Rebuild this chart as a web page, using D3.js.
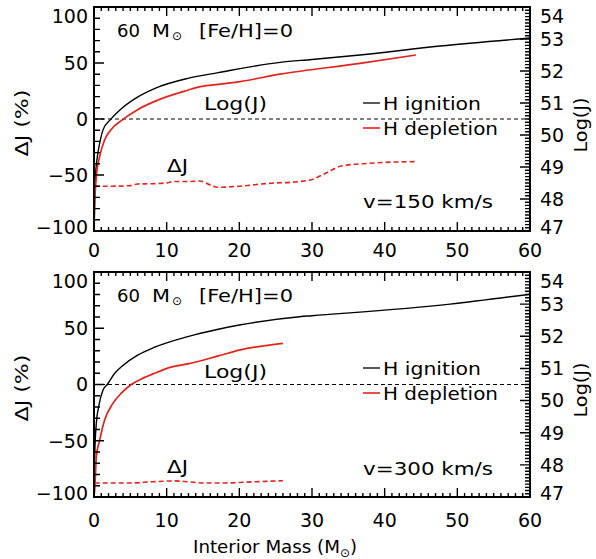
<!DOCTYPE html>
<html>
<head>
<meta charset="utf-8">
<script src="https://cdn.jsdelivr.net/npm/d3@7/dist/d3.min.js"></script>
<style>
  body { margin: 0; background: #fff; }
  svg { display: block; }
  text { font-family: "DejaVu Sans", sans-serif; fill: #000; }
</style>
</head>
<body>
<svg id="chart" width="596" height="559"></svg>
<script>
// v = 150 km/s : log J at H ignition / H depletion vs interior mass (Msun)
const ign150Mass = [0, 0.08, 0.18, 0.46, 0.78, 1.24, 2.3, 3.8, 6.1, 8.4, 12.9, 17.1, 25.6, 30, 36.6, 47.6, 60]
const ign150LogJ = [47.0, 47.9, 48.6, 49.32, 49.74, 50.16, 50.49, 50.83, 51.2, 51.46, 51.77, 51.95, 52.27, 52.36, 52.5, 52.78, 53.03]
const dep150Mass = [0, 0.09, 0.32, 0.78, 1.47, 2.39, 3.76, 6.06, 8.35, 12.9, 14.6, 17.1, 20.1, 25.6, 36.6, 44.3]
const dep150LogJ = [47.0, 47.8, 48.7, 49.33, 49.85, 50.18, 50.45, 50.8, 51.05, 51.4, 51.51, 51.58, 51.67, 51.9, 52.24, 52.5]
// relative change of J (%)
const dj150Mass = [0.1, 2, 5, 6, 8, 10, 11, 13, 14.6, 16, 17, 20, 24, 28, 30, 32, 34, 38, 44.3]
const dj150 = [-60, -60, -59.5, -58, -57.8, -57, -55.8, -55.8, -55.4, -59, -61, -60, -57.5, -56, -54, -48, -42, -39.5, -38]

// v = 300 km/s
const ign300Mass = [0, 0.1, 0.32, 0.64, 1.24, 1.83, 2.85, 3.76, 6.06, 8.35, 12.9, 17.1, 20, 28.3, 30, 49, 60]
const ign300LogJ = [47.0, 48.3, 49.29, 49.81, 50.33, 50.5, 50.85, 51.05, 51.42, 51.66, 51.99, 52.22, 52.35, 52.61, 52.64, 53.0, 53.31]
const dep300Mass = [0, 0.09, 0.32, 0.78, 1.47, 2.62, 3.76, 5.14, 6.06, 8.35, 10.6, 12.9, 17.1, 20, 26]
const dep300LogJ = [47.0, 47.2, 48.25, 48.77, 49.4, 49.92, 50.23, 50.5, 50.62, 50.85, 51.04, 51.14, 51.39, 51.57, 51.78]
const dj300Mass = [0.1, 5, 8, 11, 13, 15, 18, 22, 26]
const dj300 = [-87.5, -87.5, -86.5, -85.7, -86.5, -87.5, -87.5, -86.5, -85.5]

const xTicks = [0, 10, 20, 30, 40, 50, 60]
const djTicks = [-100, -50, 0, 50, 100]
const logJTicks = [47, 48, 49, 50, 51, 52, 53, 54]

const RED = '#e3231c'
const svg = d3.select('#chart')
const x = d3.scaleLinear().domain([0, 60]).range([94, 530])

const zip = (a, b) => a.map((m, i) => [m, b[i]])

const panels = [
  { top: 7, bottom: 231, xLabY: 257, speed: 'v=150 km/s',
    ign: zip(ign150Mass, ign150LogJ), dep: zip(dep150Mass, dep150LogJ), dj: zip(dj150Mass, dj150) },
  { top: 272, bottom: 497, xLabY: 527, speed: 'v=300 km/s',
    ign: zip(ign300Mass, ign300LogJ), dep: zip(dep300Mass, dep300LogJ), dj: zip(dj300Mass, dj300) }
]

function txt(g, s, px, py, opts = {}) {
  const t = g.append('text').attr('x', px).attr('y', py)
    .attr('font-size', opts.size || 18).text(s)
  if (opts.anchor) t.attr('text-anchor', opts.anchor)
  if (opts.len) t.attr('textLength', opts.len).attr('lengthAdjust', 'spacingAndGlyphs')
  if (opts.rot) t.attr('transform', `rotate(${opts.rot},${px},${py})`)
  return t
}

panels.forEach((p, k) => {
  const g = svg.append('g')
  const yL = d3.scaleLinear().domain([-100, 100]).range([p.bottom, p.top])
  const yR = d3.scaleLinear().domain([47, 54]).range([p.bottom, p.top])

  const clipId = 'clip' + k
  g.append('clipPath').attr('id', clipId).append('rect')
    .attr('x', x(0)).attr('y', p.top).attr('width', x(60) - x(0)).attr('height', p.bottom - p.top)
  const plot = g.append('g').attr('clip-path', `url(#${clipId})`)

  // zero line of the ΔJ axis
  plot.append('line')
    .attr('x1', x(0)).attr('x2', x(60)).attr('y1', yL(0)).attr('y2', yL(0))
    .attr('stroke', '#000').attr('stroke-width', 1).attr('stroke-dasharray', '4,3')

  const lineR = d3.line().x(d => x(d[0])).y(d => yR(d[1])).curve(d3.curveMonotoneX)
  const lineL = d3.line().x(d => x(d[0])).y(d => yL(d[1])).curve(d3.curveMonotoneX)

  plot.append('path').attr('d', lineR(p.ign)).attr('fill', 'none')
    .attr('stroke', '#000').attr('stroke-width', 1.4)
  plot.append('path').attr('d', lineR(p.dep)).attr('fill', 'none')
    .attr('stroke', RED).attr('stroke-width', 1.7)
  plot.append('path').attr('d', lineL(p.dj)).attr('fill', 'none')
    .attr('stroke', RED).attr('stroke-width', 1.6).attr('stroke-dasharray', '5,3')

  // ticks, all pointing inward, collected into one path
  const tp = d3.path()
  const seg = (x1, y1, x2, y2) => { tp.moveTo(x1, y1); tp.lineTo(x2, y2) }
  d3.range(0, 61, 1).forEach(v => {
    const len = v % 10 === 0 ? 9 : 4
    seg(x(v), p.bottom, x(v), p.bottom - len)
    seg(x(v), p.top, x(v), p.top + len)
  })
  d3.range(-100, 101, 10).forEach(v => {
    const len = v % 50 === 0 ? 10 : 6
    seg(x(0), yL(v), x(0) + len, yL(v))
  })
  d3.range(470, 541, 1).forEach(v => {
    const len = v % 10 === 0 ? 10 : 5
    seg(x(60), yR(v / 10), x(60) - len, yR(v / 10))
  })
  g.append('rect').attr('x', x(0)).attr('y', p.top)
    .attr('width', x(60) - x(0)).attr('height', p.bottom - p.top)
    .attr('fill', 'none').attr('stroke', '#000').attr('stroke-width', 2)
  g.append('path').attr('class', 'ticks').attr('d', tp.toString()).attr('fill', 'none')
    .attr('stroke', '#000').attr('stroke-width', 1.4)

  // tick labels
  const clampY = v => Math.max(p.top + 9, Math.min(p.bottom - 4, v))
  djTicks.forEach(v => {
    txt(g, v < 0 ? '\u2212' + Math.abs(v) : String(v), 88, clampY(yL(v)), { size: 19, anchor: 'end' })
      .attr('dy', '0.36em')
  })
  logJTicks.forEach(v => {
    txt(g, String(v), 540, clampY(yR(v)), { size: 19 }).attr('dy', '0.36em')
  })
  xTicks.forEach(v => {
    txt(g, String(v), x(v), p.xLabY, { size: 19, anchor: 'middle' })
  })

  // axis titles
  txt(g, '\u0394J (%)', 28, p.top + 116, { size: 18, anchor: 'middle', rot: -90, len: 67 })
  txt(g, 'Log(J)', 587, p.top + 118, { size: 18, anchor: 'middle', rot: -90, len: 55 })

  // panel annotations
  const o = p.top - 7
  txt(g, '60', 117, o + 37, { size: 18, len: 23 })
  txt(g, 'M', 152, o + 37, { size: 18, len: 18 })
  txt(g, '\u2299', 172, o + 40, { size: 12 })
  txt(g, '[Fe/H]=0', 199, o + 37, { size: 18, len: 94 })
  txt(g, 'Log(J)', 204, o + (k ? 113 : 110), { size: 18, len: 63 })
  txt(g, '\u0394J', 167, o + (k ? 208 : 172), { size: 18, len: 21 })

  const ly1 = o + 103, ly2 = o + 128
  g.append('line').attr('x1', 363).attr('x2', 380).attr('y1', ly1).attr('y2', ly1)
    .attr('stroke', '#000').attr('stroke-width', 1.3)
  g.append('line').attr('x1', 363).attr('x2', 380).attr('y1', ly2).attr('y2', ly2)
    .attr('stroke', RED).attr('stroke-width', 1.6)
  txt(g, 'H ignition', 383, ly1 + 7, { size: 18, len: 98 })
  txt(g, 'H depletion', 383, ly2 + 7, { size: 18, len: 115 })
  txt(g, p.speed, 363, o + (k ? 210 : 208), { size: 18, len: 130 })
})

// shared x-axis title
const xt = svg.append('g')
txt(xt, 'Interior Mass (M', 193, 553, { size: 18, len: 147 })
txt(xt, '\u2299', 340, 557, { size: 12 })
txt(xt, ')', 350, 553, { size: 18 })
</script>
</body>
</html>
